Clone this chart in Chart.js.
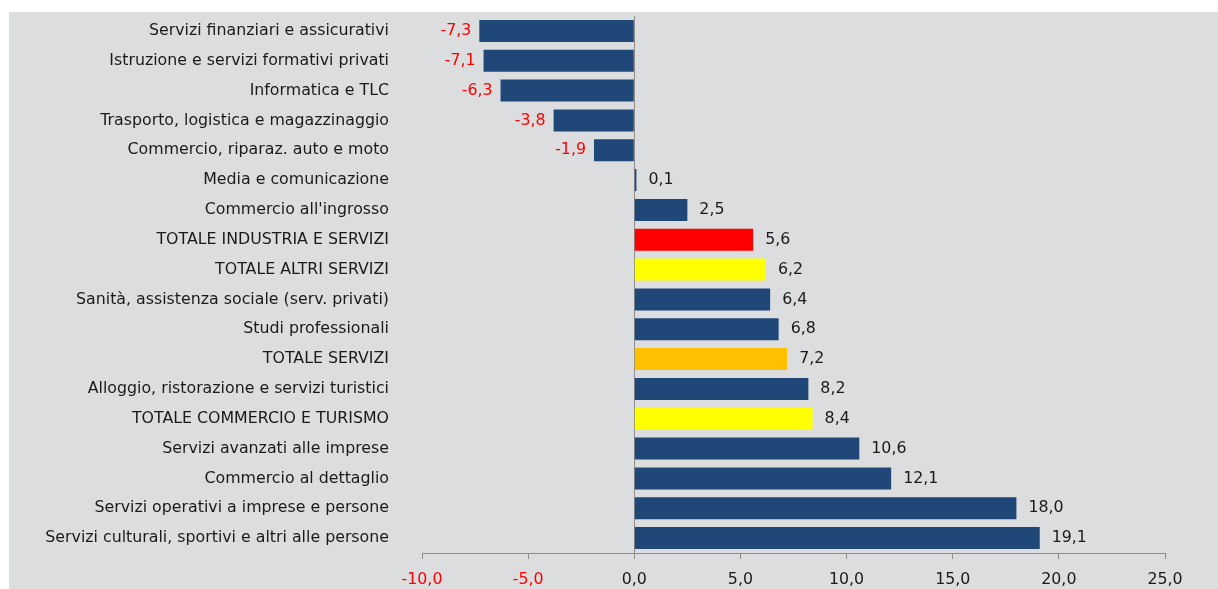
<!DOCTYPE html>
<html>
<head>
<meta charset="utf-8">
<script src="https://cdn.jsdelivr.net/npm/chart.js@4/dist/chart.umd.min.js"></script>
<style>
  html, body { margin: 0; padding: 0; background: #fff; }
  #wrap { width: 1218px; height: 589px; position: relative; }
</style>
</head>
<body>
<div id="wrap"><canvas id="chart"></canvas></div>
<script>
// sectors, top to bottom
const sectors = [
  "Servizi finanziari e assicurativi",
  "Istruzione e servizi formativi privati",
  "Informatica e TLC",
  "Trasporto, logistica e magazzinaggio",
  "Commercio, riparaz. auto e moto",
  "Media e comunicazione",
  "Commercio all'ingrosso",
  "TOTALE INDUSTRIA E SERVIZI",
  "TOTALE ALTRI SERVIZI",
  "Sanità, assistenza sociale (serv. privati)",
  "Studi professionali",
  "TOTALE SERVIZI",
  "Alloggio, ristorazione e servizi turistici",
  "TOTALE COMMERCIO E TURISMO",
  "Servizi avanzati alle imprese",
  "Commercio al dettaglio",
  "Servizi operativi a imprese e persone",
  "Servizi culturali, sportivi e altri alle persone"
];
const variation = [-7.3, -7.1, -6.3, -3.8, -1.9, 0.1, 2.5, 5.6, 6.2, 6.4, 6.8, 7.2, 8.2, 8.4, 10.6, 12.1, 18.0, 19.1];
const xTicks = [-10, -5, 0, 5, 10, 15, 20, 25];

const NAVY = "#1f4778";
const barColors = sectors.map(s => {
  if (s === "TOTALE INDUSTRIA E SERVIZI") return "#ff0000";
  if (s === "TOTALE SERVIZI") return "#ffc000";
  if (s.startsWith("TOTALE")) return "#ffff00";
  return NAVY;
});

const fmt = v => v.toFixed(1).replace(".", ",");
const FONT = "'DejaVu Sans', sans-serif";
const FSIZE = 15.8;

// grey panel behind the chart
const panel = {
  id: "panel",
  beforeDraw(chart) {
    const c = chart.ctx;
    c.save();
    c.fillStyle = "#dcdddf";
    c.fillRect(9, 12, chart.width - 9, chart.height - 12);
    c.restore();
  }
};

// value labels next to bars
const valueLabels = {
  id: "valueLabels",
  afterDatasetsDraw(chart) {
    const c = chart.ctx;
    const meta = chart.getDatasetMeta(0);
    c.save();
    c.font = FSIZE + "px " + FONT;
    c.textBaseline = "middle";
    meta.data.forEach((bar, i) => {
      const v = variation[i];
      if (v < 0) {
        c.fillStyle = "#ff0000";
        c.textAlign = "right";
        c.fillText(fmt(v), bar.x - 8, bar.y);
      } else {
        c.fillStyle = "#1a1a1a";
        c.textAlign = "left";
        c.fillText(fmt(v), bar.x + 12, bar.y);
      }
    });
    c.restore();
  }
};

new Chart(document.getElementById("chart"), {
  type: "bar",
  data: {
    labels: sectors,
    datasets: [{
      data: variation,
      backgroundColor: barColors,
      borderWidth: 0,
      barPercentage: 0.74,
      categoryPercentage: 1
    }]
  },
  options: {
    indexAxis: "y",
    responsive: true,
    maintainAspectRatio: false,
    animation: false,
    layout: { padding: { left: 9, top: 16, right: 53, bottom: 0 } },
    plugins: {
      legend: { display: false },
      tooltip: { enabled: false }
    },
    scales: {
      x: {
        min: -10,
        max: 25,
        afterBuildTicks: scale => { scale.ticks = xTicks.map(v => ({ value: v })); },
        afterFit: scale => { scale.height = 36; },
        border: { display: true, color: "#8c8c8c", width: 1 },
        grid: {
          drawOnChartArea: true,
          color: ctx => (ctx.tick && ctx.tick.value === 0) ? "#8c8c8c" : "rgba(0,0,0,0)",
          tickColor: "#8c8c8c",
          tickLength: 6
        },
        ticks: {
          padding: 11,
          font: { size: FSIZE, family: FONT },
          color: ctx => ctx.tick.value < 0 ? "#ff0000" : "#1a1a1a",
          callback: v => fmt(v),
          maxRotation: 0
        }
      },
      y: {
        afterFit: scale => {
          scale.width = 413;
          scale.paddingTop = 0;
          scale.paddingBottom = 0;
        },
        border: { display: false },
        grid: { display: false, drawTicks: false },
        ticks: {
          padding: 33,
          font: { size: FSIZE, family: FONT },
          color: "#1a1a1a",
          autoSkip: false
        }
      }
    }
  },
  plugins: [panel, valueLabels]
});
</script>
</body>
</html>
